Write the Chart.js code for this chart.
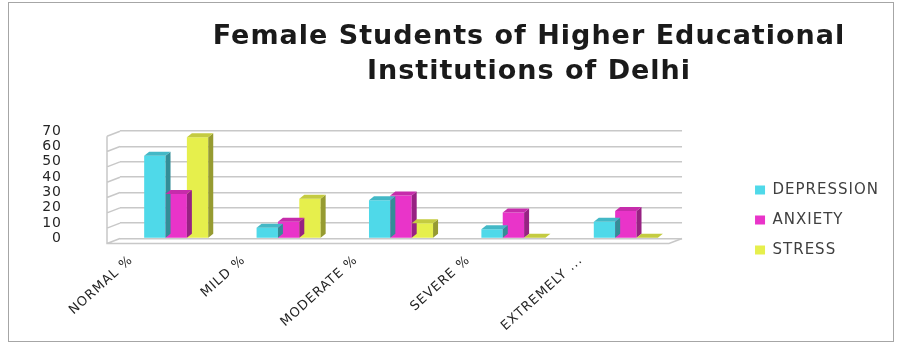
<!DOCTYPE html>
<html>
<head>
<meta charset="utf-8">
<script src="https://cdn.jsdelivr.net/npm/chart.js@4/dist/chart.umd.min.js"></script>
<style>
    body { margin: 0; background: #fff; }
    #wrap { width: 902px; height: 345px; }
</style>
</head>
<body>
<div id="wrap"><canvas id="bar-chart" width="902" height="345"></canvas></div>
<script>
var categories = ['NORMAL %', 'MILD %', 'MODERATE %', 'SEVERE %', 'EXTREMELY ...'];
var depression = [54, 7, 25, 6, 11];
var anxiety = [29, 11, 28, 17, 18];
var stress = [66, 26, 10, 0.5, 0.5];
var yTicks = [0, 10, 20, 30, 40, 50, 60, 70];

// darker shade for the sides of the bars
function shade(hex, f) {
    var n = parseInt(hex.slice(1), 16);
    var r = Math.round(((n >> 16) & 255) * f), g = Math.round(((n >> 8) & 255) * f), b = Math.round((n & 255) * f);
    return 'rgb(' + r + ',' + g + ',' + b + ')';
}

// side + top faces, taken from the bar elements the library laid out
var bar3d = {
    id: 'bar3d',
    afterDatasetsDraw: function (chart) {
        var ctx = chart.ctx;
        var dx = 5, dy = -4;
        chart.data.datasets.forEach(function (ds, i) {
            var meta = chart.getDatasetMeta(i);
            meta.data.forEach(function (bar) {
                var p = bar.getProps(['x', 'y', 'base', 'width'], true);
                var l = p.x - p.width / 2, r = p.x + p.width / 2;
                ctx.save();
                ctx.fillStyle = shade(ds.backgroundColor, 0.65);
                ctx.beginPath();
                ctx.moveTo(r, p.y); ctx.lineTo(r + dx, p.y + dy);
                ctx.lineTo(r + dx, p.base + dy); ctx.lineTo(r, p.base);
                ctx.closePath(); ctx.fill();
                ctx.fillStyle = shade(ds.backgroundColor, 0.85);
                ctx.beginPath();
                ctx.moveTo(l, p.y); ctx.lineTo(l + dx, p.y + dy);
                ctx.lineTo(r + dx, p.y + dy); ctx.lineTo(r, p.y);
                ctx.closePath(); ctx.fill();
                ctx.restore();
            });
        });
    }
};

// side wall and floor of the 3D box, hung on the y scale's tick pixels
var walls = {
    id: 'walls',
    beforeDatasetsDraw: function (chart) {
        var ctx = chart.ctx, a = chart.chartArea, y = chart.scales.y;
        var dx = 13, dy = 5;
        ctx.save();
        ctx.strokeStyle = '#c8c8c8';
        ctx.lineWidth = 1.5;
        ctx.beginPath();
        yTicks.forEach(function (v) {
            var py = y.getPixelForValue(v);
            ctx.moveTo(a.left, py);
            ctx.lineTo(a.left - dx, py + dy);
        });
        ctx.moveTo(a.left - dx, a.top + dy);
        ctx.lineTo(a.left - dx, a.bottom + dy);
        ctx.lineTo(a.right - dx, a.bottom + dy);
        ctx.lineTo(a.right, a.bottom);
        ctx.stroke();
        ctx.restore();
    }
};

// the original text is stretched wide; legend pushed away from the plot; title off-centre
var frame = {
    id: 'frame',
    beforeUpdate: function (chart) {
        chart.ctx.letterSpacing = '1px';
    },
    beforeLayout: function (chart) {
        var lg = chart.legend;
        if (lg && !lg._wide) {
            var fit = lg.fit;
            lg.fit = function () { fit.call(this); this.width += 61; };
            lg._wide = true;
        }
    },
    afterLayout: function (chart) {
        chart.legend.left += 58;
        chart.legend.right += 58;
        chart.legend.top += 50;
        chart.legend.bottom += 50;
        chart.titleBlock.left = 166;
    },
    beforeDraw: function (chart) {
        var ctx = chart.ctx;
        ctx.save();
        ctx.fillStyle = '#fff';
        ctx.fillRect(0, 0, chart.width, chart.height);
        ctx.strokeStyle = '#a6a6a6';
        ctx.lineWidth = 1;
        ctx.strokeRect(8.5, 2.5, chart.width - 17, chart.height - 6);
        ctx.restore();
    }
};

new Chart(document.getElementById('bar-chart'), {
    type: 'bar',
    data: {
        labels: categories,
        datasets: [
            { label: 'DEPRESSION', data: depression, backgroundColor: '#4fd9e9' },
            { label: 'ANXIETY', data: anxiety, backgroundColor: '#e934c9' },
            { label: 'STRESS', data: stress, backgroundColor: '#e6ef4c' }
        ]
    },
    plugins: [frame, walls, bar3d],
    options: {
        responsive: false,
        animation: false,
        categoryPercentage: 0.57,
        barPercentage: 1,
        layout: { padding: { left: 10, right: 10, top: 0, bottom: 5 } },
        plugins: {
            title: {
                display: true,
                text: ['Female Students of Higher Educational', 'Institutions of Delhi'],
                color: '#1a1a1a',
                font: { family: 'DejaVu Sans', size: 27, weight: 'bold', lineHeight: 1.3 },
                padding: { top: 19, bottom: 42 }
            },
            legend: {
                position: 'right',
                align: 'center',
                labels: {
                    color: '#404040',
                    font: { family: 'DejaVu Sans', size: 15 },
                    boxWidth: 10, boxHeight: 9,
                    padding: 15
                }
            },
            tooltip: { enabled: false }
        },
        scales: {
            x: {
                grid: { display: false },
                border: { display: false },
                ticks: {
                    color: '#262626',
                    font: { family: 'DejaVu Sans', size: 13 },
                    minRotation: 42, maxRotation: 42, padding: 6,
                    labelOffset: -45, autoSkip: false
                }
            },
            y: {
                min: 0, max: 70,
                afterBuildTicks: function (axis) {
                    axis.ticks = yTicks.map(function (v) { return { value: v }; });
                },
                afterFit: function (axis) { axis.width = 110; },
                grid: { color: '#c8c8c8', lineWidth: 1.5, drawTicks: false },
                border: { display: false },
                ticks: {
                    color: '#262626',
                    font: { family: 'DejaVu Sans', size: 14 },
                    padding: 58, autoSkip: false
                }
            }
        }
    }
});
</script>
</body>
</html>
